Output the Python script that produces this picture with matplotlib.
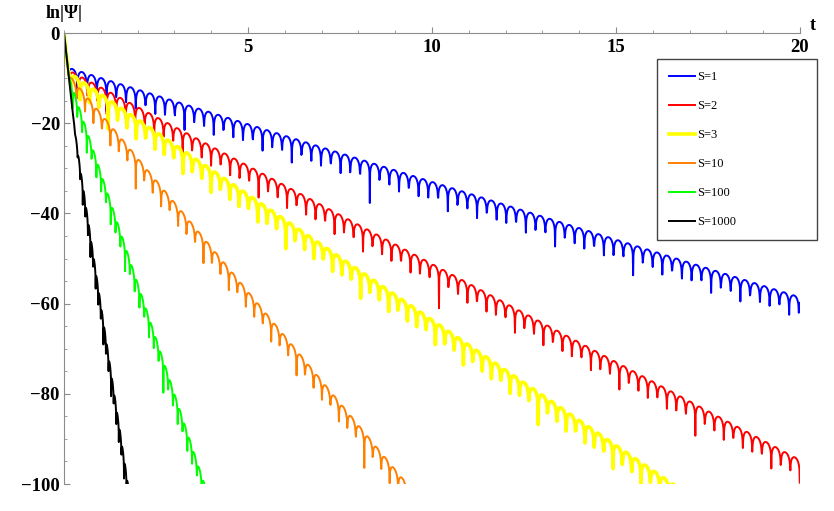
import numpy as np
import matplotlib
matplotlib.use("Agg")
import matplotlib.pyplot as plt
from matplotlib.ticker import MultipleLocator, FuncFormatter

# series
labels = ["S=1", "S=2", "S=3", "S=10", "S=100", "S=1000"]
colors = ["#0000ff", "#ff0000", "#ffff00", "#ff8000", "#00ff00", "#000000"]
widths = [1.4, 1.4, 2.6, 1.4, 1.4, 1.4]

# envelope of ln|Psi| (arch tops): value at t=0 and decay per unit of t
env_start = [-7.4, -7.7, -8.0, -8.0, -6.5, -6.2]
env_slope = [2.56, 4.35, 5.56, 9.87, 24.5, 54.0]
# spacing of the cusps and the t of one cusp
cusp_period = [0.265, 0.258, 0.254, 0.23, 0.13, 0.07]
cusp_at = [6.19, 17.93, 13.14, 3.56, 1.79, 1.0]
t_end = [20.0, 20.0, 16.8, 9.6, 4.0, 1.9]

x_ticks = [5, 10, 15, 20]
y_ticks = [0, -20, -40, -60, -80, -100]

gray = "#8c8c8c"
serif = "Liberation Serif"

fig = plt.figure(figsize=(8.34, 5.11), dpi=100)
ax = fig.add_axes([64 / 834, 1 - 484 / 511, 736 / 834, 451 / 511])

for i in range(len(labels)):
    P = cusp_period[i]
    t = np.arange(0, t_end[i], P / 29.37)
    # fast initial drop from 0, then the oscillating decay
    psi = np.exp(-75 * t) + np.exp(env_start[i] - env_slope[i] * t) * np.abs(np.sin(np.pi * (t - cusp_at[i]) / P))
    ax.plot(t, np.log(psi), color=colors[i], lw=widths[i], label=labels[i])

ax.set_xlim(0, 20)
ax.set_ylim(-100, 0)

ax.spines["bottom"].set_visible(False)
ax.spines["right"].set_visible(False)
ax.spines["top"].set_color(gray)
ax.spines["left"].set_color(gray)

ax.xaxis.set_ticks_position("top")
ax.set_xticks(x_ticks)
ax.xaxis.set_minor_locator(MultipleLocator(1))
ax.tick_params(axis="x", which="both", direction="out", top=True, bottom=False,
               labeltop=True, labelbottom=False, color=gray, pad=-21)
ax.tick_params(axis="x", which="major", length=4.3)
ax.tick_params(axis="x", which="minor", length=2.5)

ax.set_yticks(y_ticks)
ax.yaxis.set_minor_locator(MultipleLocator(5))
ax.yaxis.set_major_formatter(FuncFormatter(lambda v, p: "0" if v == 0 else "\u2212%d" % abs(v)))
ax.tick_params(axis="y", which="both", direction="in", color=gray, pad=3)
ax.tick_params(axis="y", which="major", length=4.2)
ax.tick_params(axis="y", which="minor", length=2.4)

for lab in ax.get_xticklabels() + ax.get_yticklabels():
    lab.set_fontfamily(serif)
    lab.set_fontweight("bold")
    lab.set_fontsize(13.5)

fig.text(64 / 834, 1 - 14 / 511, "ln|\u03a8|", family=serif, weight="bold", fontsize=13,
         ha="center", va="center")
fig.text(813 / 834, 1 - 26 / 511, "t", family=serif, weight="bold", fontsize=13,
         ha="center", va="center")

leg = ax.legend(loc="upper left", bbox_to_anchor=(657 / 834, 1 - 239 / 511, 160 / 834, 180 / 511),
                bbox_transform=fig.transFigure, mode="expand", borderaxespad=0,
                prop={"family": serif, "size": 9}, handlelength=2.1, handletextpad=0.15,
                labelspacing=1.36, borderpad=0.95, fancybox=False, framealpha=1)
leg.get_frame().set_edgecolor("#444444")
leg.get_frame().set_linewidth(1.0)

fig.savefig("out.png", dpi=100)
